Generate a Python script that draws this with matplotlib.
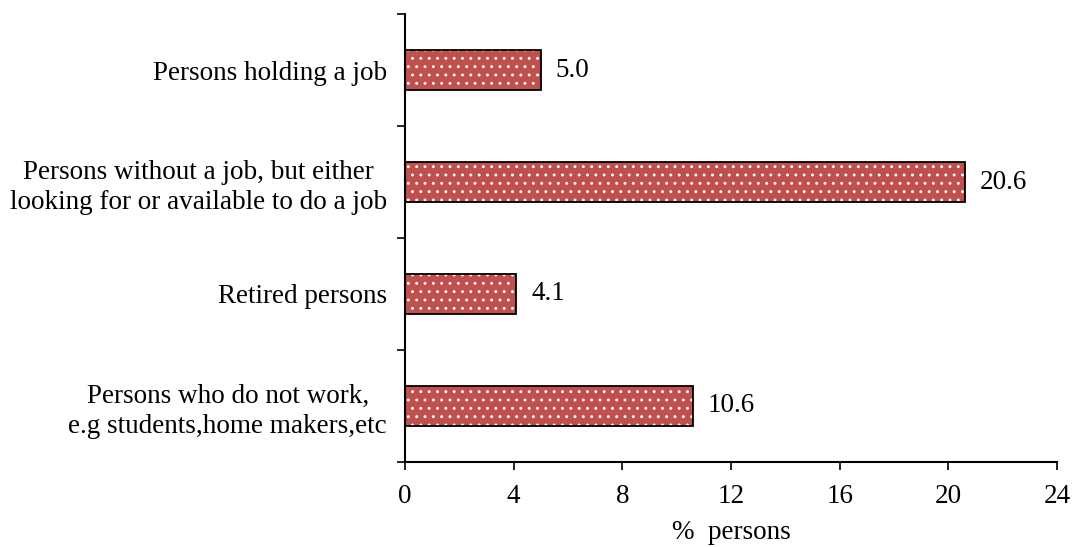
import matplotlib
matplotlib.use('Agg')
import matplotlib.pyplot as plt

plt.rcParams['font.family'] = ['Liberation Serif', 'DejaVu Serif']
plt.rcParams['hatch.linewidth'] = 0.9

categories = ['Persons holding a job',
              'Persons without a job, but either\nlooking for or available to do a job',
              'Retired persons',
              'Persons who do not work,\ne.g students,home makers,etc']
values = [5.0, 20.6, 4.1, 10.6]
xticks = [0, 4, 8, 12, 16, 20, 24]

fig = plt.figure(figsize=(10.76, 5.47), dpi=100)
ax = fig.add_axes([0.3764, 0.1554, 0.6059, 0.819])

pos = list(range(len(categories)))
# filled bars with white dotted texture, then black outline on top
ax.barh(pos, values, height=0.36, color='#C0504D', edgecolor='white',
        linewidth=0, hatch='..')
bars = ax.barh(pos, values, height=0.36, color='none', edgecolor='black',
               linewidth=1.3)
for b, v in zip(bars, values):
    ax.text(v + 0.55, b.get_y() + b.get_height() / 2, f'{v:.1f}',
            va='center', ha='left', fontsize=19.5)

ax.set_ylim(3.5, -0.5)
ax.set_xlim(0, 24)
ax.set_xticks(xticks)
ax.set_yticks(pos)
ax.set_yticklabels(categories, fontsize=19.5, ha='right', multialignment='center',
                   linespacing=1.25)
ax.set_yticks([p - 0.5 for p in pos] + [len(pos) - 0.5], minor=True)
ax.tick_params(axis='y', which='major', length=0, pad=13)
ax.tick_params(axis='y', which='minor', length=6, width=1.2, direction='out')
ax.tick_params(axis='x', length=6, width=1.2, direction='out', labelsize=19.5, pad=10)
ax.set_xlabel('%  persons', fontsize=19.5, labelpad=8)

for s in ['top', 'right']:
    ax.spines[s].set_visible(False)
for s in ['left', 'bottom']:
    ax.spines[s].set_linewidth(1.5)

fig.savefig('out.png', dpi=100)
